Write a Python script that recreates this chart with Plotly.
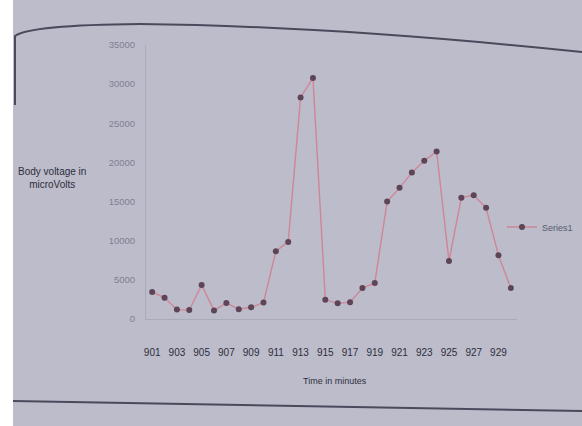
import plotly.graph_objects as go

# minutes on the category axis
TIMES = ["901", "902", "903", "904", "905", "906", "907", "908", "909", "910",
         "911", "912", "913", "914", "915", "916", "917", "918", "919", "920",
         "921", "922", "923", "924", "925", "926", "927", "928", "929", "930"]
# body voltage in microvolts
VOLTAGE = [3450, 2700, 1200, 1150, 4350, 1100, 2050, 1250, 1500, 2100,
           8650, 9850, 28300, 30800, 2450, 2000, 2150, 3950, 4600, 15000,
           16750, 18700, 20200, 21400, 7400, 15500, 15800, 14200, 8150, 3950]
X_TICKS = ["901", "903", "905", "907", "909", "911", "913", "915",
           "917", "919", "921", "923", "925", "927", "929"]
Y_TICKS = [0, 5000, 10000, 15000, 20000, 25000, 30000, 35000]

PAPER = "#bcbccb"
INK = "#2e2e3a"
FAINT = "#7f8092"

W, H = 582, 426
L, R, T, B = 146, 65, 45, 107
PW, PH = W - L - R, H - T - B


def px(x):
    return (x - L) / PW


def py(y):
    return (H - B - y) / PH


fig = go.Figure()
fig.add_trace(go.Scatter(
    x=TIMES, y=VOLTAGE, mode="lines+markers", name="Series1",
    line=dict(color="#cf8696", width=1.4),
    marker=dict(color="#5e4457", size=6),
))

# photographed page: grey sheet with a white strip on the left, plus border lines
fig.add_shape(type="rect", xref="paper", yref="paper", layer="below",
              x0=px(13), x1=px(W + 5), y0=py(H + 5), y1=py(-5),
              fillcolor=PAPER, line=dict(width=0))
fig.add_shape(type="path", xref="paper", yref="paper",
              path=(f"M {px(15)},{py(105)} L {px(15)},{py(36)} "
                    f"Q {px(30)},{py(25)} {px(140)},{py(24)} "
                    f"Q {px(330)},{py(26)} {px(582)},{py(52)}"),
              line=dict(color="#4a4a5c", width=2))
fig.add_shape(type="line", xref="paper", yref="paper",
              x0=px(13), y0=py(401), x1=px(582), y1=py(411),
              line=dict(color="#4a4a5c", width=2))

fig.add_annotation(xref="paper", yref="paper", x=px(52), y=py(178),
                   xanchor="center", yanchor="middle",
                   text="Body voltage in<br>microVolts", showarrow=False,
                   font=dict(size=10, color=INK), align="center")
fig.add_annotation(xref="paper", yref="paper", x=px(335), y=py(381),
                   xanchor="center", yanchor="middle",
                   text="Time in minutes", showarrow=False,
                   font=dict(size=9, color=INK))

fig.update_layout(
    width=W, height=H,
    margin=dict(l=L, r=R, t=T, b=B, autoexpand=False),
    paper_bgcolor="white", plot_bgcolor=PAPER,
    font=dict(family="Liberation Sans", size=9, color=FAINT),
    xaxis=dict(type="category", tickvals=X_TICKS, ticktext=X_TICKS,
               range=[-0.5, len(TIMES) - 0.5], showgrid=False,
               showline=True, linecolor="#a9aabb", ticks="",
               ticklabelstandoff=24, tickfont=dict(size=10, color=INK)),
    yaxis=dict(range=[0, 35000], tickvals=Y_TICKS, tickformat="d",
               showgrid=False, zeroline=False, showline=True,
               linecolor="#a9aabb", ticklabelstandoff=8,
               tickfont=dict(size=9.5, color=FAINT)),
    showlegend=True,
    legend=dict(x=px(502), y=py(227), xanchor="left", yanchor="middle",
                itemwidth=30, bgcolor="rgba(0,0,0,0)",
                font=dict(size=9, color="#5a5b6c")),
)

fig.write_html("out.html", config={"displayModeBar": False},
               post_script="document.body.style.margin='0';")
